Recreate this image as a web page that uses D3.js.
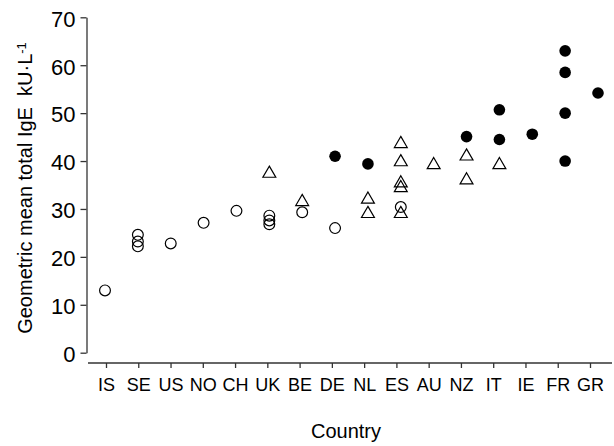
<!DOCTYPE html>
<html>
<head>
<meta charset="utf-8">
<script src="https://cdn.jsdelivr.net/npm/d3@7"></script>
<style>
  body { margin: 0; background: #fff; }
  svg { display: block; font-family: "Liberation Sans", Arial, sans-serif; }
  .axis path, .axis line { stroke: #333; stroke-width: 1.3; }
  .axis text { fill: #000; }
</style>
</head>
<body>
<div id="chart"></div>
<script>
'use strict';

var countries = ['IS', 'SE', 'US', 'NO', 'CH', 'UK', 'BE', 'DE', 'NL', 'ES', 'AU', 'NZ', 'IT', 'IE', 'FR', 'GR']
var yTicks = [0, 10, 20, 30, 40, 50, 60, 70]

// open circles
var openCircles = [
  ['IS', 13.0], ['SE', 24.6], ['SE', 23.2], ['SE', 22.2], ['US', 22.8], ['NO', 27.1],
  ['CH', 29.6], ['UK', 28.6], ['UK', 27.6], ['UK', 26.8], ['BE', 29.3], ['DE', 26.0], ['ES', 30.4]
]
// open triangles
var triangles = [
  ['UK', 37.6], ['BE', 31.7], ['NL', 32.2], ['NL', 29.2], ['ES', 43.8], ['ES', 40.0],
  ['ES', 35.6], ['ES', 34.6], ['ES', 29.2], ['AU', 39.4], ['NZ', 41.2], ['NZ', 36.2], ['IT', 39.4]
]
// filled circles
var filledCircles = [
  ['DE', 41.0], ['NL', 39.4], ['NZ', 45.1], ['IT', 50.7], ['IT', 44.5], ['IE', 45.6],
  ['FR', 63.0], ['FR', 58.5], ['FR', 50.0], ['FR', 40.0], ['GR', 54.2]
]

var width = 614, height = 446
var svg = d3.select('#chart').append('svg').attr('width', width).attr('height', height)

var y = d3.scaleLinear().domain([0, 70]).range([352.7, 17.3])
// ticks and markers are not quite aligned in the original figure
var xAxisScale = d3.scalePoint().domain(countries).range([106, 590])
var x = d3.scalePoint().domain(countries).range([105, 598])

var axisY = 363

svg.append('g')
    .attr('class', 'axis yaxis')
    .attr('transform', 'translate(86.5,0)')
    .call(d3.axisLeft(y).tickValues(yTicks).tickSize(6).tickSizeOuter(0).tickPadding(5))
  .selectAll('text')
    .style('font-size', '22px')
    .attr('dy', '0.4em')

var xg = svg.append('g')
    .attr('class', 'axis xaxis')
    .attr('transform', 'translate(0,' + axisY + ')')
    .call(d3.axisBottom(xAxisScale).tickSize(5).tickSizeOuter(0).tickPadding(10))
xg.select('.domain').attr('d', 'M88,0H612')
xg.selectAll('text')
    .style('font-size', '18px')

// markers
svg.append('g').selectAll('circle.open')
    .data(openCircles)
  .enter().append('circle')
    .attr('class', 'open')
    .attr('cx', function(d) { return x(d[0]) })
    .attr('cy', function(d) { return y(d[1]) })
    .attr('r', 5.4)
    .style('fill', 'none')
    .style('stroke', '#000')
    .style('stroke-width', 1.2)

var tri = d3.symbol().type(d3.symbolTriangle).size(72)
svg.append('g').selectAll('path.tri')
    .data(triangles)
  .enter().append('path')
    .attr('class', 'tri')
    .attr('d', tri)
    .attr('transform', function(d) { return 'translate(' + x(d[0]) + ',' + (y(d[1]) + 1) + ')' })
    .style('fill', 'none')
    .style('stroke', '#000')
    .style('stroke-width', 1.2)

svg.append('g').selectAll('circle.filled')
    .data(filledCircles)
  .enter().append('circle')
    .attr('class', 'filled')
    .attr('cx', function(d) { return x(d[0]) })
    .attr('cy', function(d) { return y(d[1]) })
    .attr('r', 5.8)
    .style('fill', '#000')

// axis titles
var ytitle = svg.append('text')
    .attr('transform', 'translate(32,188) rotate(-90)')
    .attr('text-anchor', 'middle')
    .style('font-size', '20px')
ytitle.append('tspan').text('Geometric mean total IgE\u00a0\u00a0kU\u00b7L')
ytitle.append('tspan').attr('dy', '-0.45em').style('font-size', '13px').text('-1')

svg.append('text')
    .attr('x', 346)
    .attr('y', 438)
    .attr('text-anchor', 'middle')
    .style('font-size', '20px')
    .text('Country')
</script>
</body>
</html>
